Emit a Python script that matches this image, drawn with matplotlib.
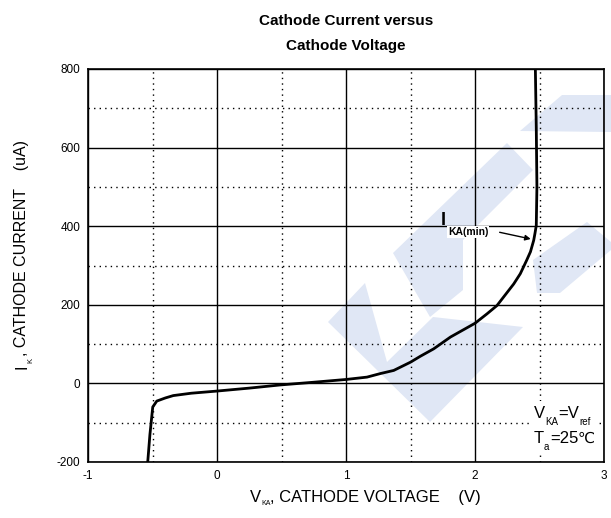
import matplotlib
matplotlib.use("Agg")
import matplotlib.pyplot as plt
from matplotlib.patches import Polygon, Rectangle
from matplotlib.ticker import MultipleLocator

plt.rcParams['font.family'] = ['Liberation Sans', 'DejaVu Sans']
plt.rcParams['axes.unicode_minus'] = False

# cathode voltage (V) and cathode current (uA)
v_ka = [-0.537, -0.52, -0.498, -0.467, -0.40, -0.339, -0.2, 0.0, 0.25, 0.488,
        0.75, 1.0, 1.163, 1.266, 1.37, 1.5, 1.576, 1.68, 1.81, 2.0, 2.093,
        2.17, 2.30, 2.351, 2.40, 2.43, 2.455, 2.465, 2.475, 2.48, 2.475, 2.468]
i_k = [-200, -130, -60, -45, -37, -31, -25, -19.5, -12, -4,
       3, 10, 16, 25, 33, 54, 69, 88, 118, 153, 177,
       198, 253, 279, 313, 335, 364, 382, 402, 500, 650, 800]

x_ticks = [-1, 0, 1, 2, 3]
y_ticks = [-200, 0, 200, 400, 600, 800]

W, H = 611, 518
fig = plt.figure(figsize=(W / 100, H / 100), dpi=100)

def px(x, y):
    # pixel (from top-left) -> figure fraction
    return (x / W, 1 - y / H)

def put(x, y, s, size, **kw):
    kw.setdefault('zorder', 6)
    fig.text(*px(x, y), s, fontsize=size, ha='left', va='baseline', **kw)

ax = fig.add_axes([88 / W, 1 - 462 / H, (604 - 88) / W, (462 - 69) / H])
ax.set_zorder(1)
ax.patch.set_alpha(0)

# faint logo watermark behind the chart (pixel coords)
wm = '#e0e7f5'
shapes = [
    [(328, 322), (365, 283), (387, 362), (433, 317), (523, 327), (430, 422)],
    [(393, 253), (507, 143), (533, 170), (463, 240), (463, 290), (430, 317)],
    [(520, 131), (562, 95), (611, 95), (611, 132)],
    [(533, 260), (587, 222), (611, 242), (611, 250), (560, 293), (537, 293)],
]
for s in shapes:
    fig.add_artist(Polygon([px(x, y) for x, y in s], closed=True,
                           facecolor=wm, edgecolor='none', zorder=0.5))

ax.plot(v_ka, i_k, color='black', lw=2.0, solid_joinstyle='round', zorder=4)

ax.set_xlim(x_ticks[0], x_ticks[-1])
ax.set_ylim(y_ticks[0], y_ticks[-1])
ax.set_xticks(x_ticks)
ax.set_yticks(y_ticks)
ax.xaxis.set_minor_locator(MultipleLocator(0.5))
ax.yaxis.set_minor_locator(MultipleLocator(100))
ax.grid(which='major', color='black', lw=1.0, ls='-')
ax.grid(which='minor', color='black', lw=1.0, ls=(0, (1, 3)))
ax.tick_params(which='both', length=0, labelsize=8.5)
ax.tick_params(axis='x', pad=6)
ax.tick_params(axis='y', pad=5.5)
for sp in ax.spines.values():
    sp.set_linewidth(1.2)

# title
fig.text(*px(346, 25), 'Cathode Current versus', ha='center', va='baseline',
         fontsize=11, fontweight='bold')
fig.text(*px(346, 50), 'Cathode Voltage', ha='center', va='baseline',
         fontsize=11, fontweight='bold')

# x label
put(250, 502, 'V', 12)
put(261, 505, 'KA', 5)
put(270, 502, ', CATHODE VOLTAGE    (V)', 12)

# y label (rotated, baseline running upwards)
rot = dict(rotation=90, rotation_mode='anchor')
put(26, 369, 'I', 11.5, **rot)
put(32, 363, 'K', 5.5, **rot)
put(26, 356, ', CATHODE CURRENT    (uA)', 11.5, **rot)

# I_KA(min) annotation
put(441, 225, 'I', 13, fontweight='bold')
put(448, 235, 'KA(min)', 7.5, fontweight='bold',
    bbox=dict(boxstyle='square,pad=0.05', fc='white', ec='none'))
ax.annotate('', xy=(2.453, 366), xytext=(2.17, 386),
            arrowprops=dict(arrowstyle='-|>', color='black', lw=1.0,
                            mutation_scale=8), zorder=5)

# conditions, on a white patch that hides the grid behind them
fig.add_artist(Rectangle(px(531, 455), 68 / W, 54 / H, transform=fig.transFigure,
                         facecolor='white', edgecolor='none', zorder=5))
put(534, 418, 'V', 12)
put(545, 425, 'KA', 7)
put(558, 418, '=V', 12)
put(579, 425, 'ref', 7)
put(534, 443, 'T', 12)
put(544, 450, 'a', 7)
put(550, 443, '=25', 12)
put(578, 443, '\u2103', 11, family=['DejaVu Sans'])

fig.savefig('out.png', dpi=100)
